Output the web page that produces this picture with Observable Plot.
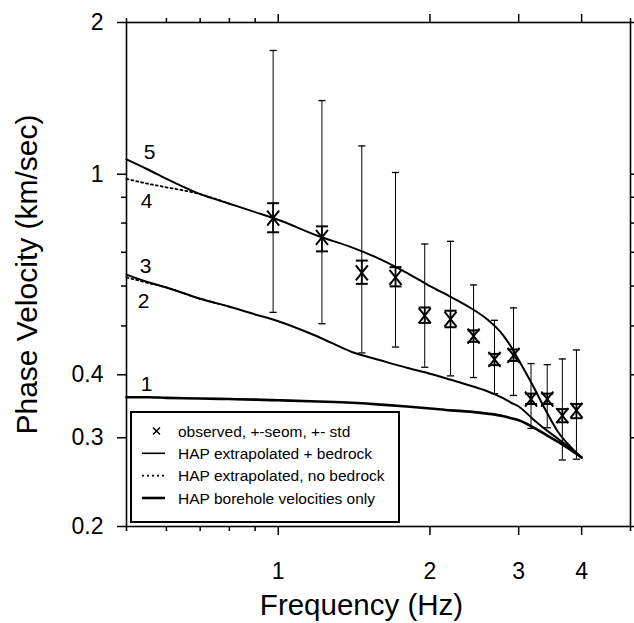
<!DOCTYPE html>
<html>
<head>
<meta charset="utf-8">
<script src="https://cdn.jsdelivr.net/npm/d3@7"></script>
<script src="https://cdn.jsdelivr.net/npm/@observablehq/plot@0.6"></script>
<style>
  html, body { margin: 0; padding: 0; background: #fff; }
  #chart { width: 634px; height: 623px; }
</style>
</head>
<body>
<div id="chart"></div>
<script>
// ---- observed data ----
const obsFreq = [0.977, 1.221, 1.465, 1.709, 1.953, 2.197, 2.441, 2.686, 2.930, 3.174, 3.418, 3.662, 3.906];
const obsVel  = [0.818, 0.749, 0.637, 0.624, 0.524, 0.516, 0.477, 0.429, 0.437, 0.358, 0.358, 0.332, 0.340];
const seomLo  = [0.767, 0.703, 0.606, 0.599, 0.507, 0.497, 0.465, 0.418, 0.426, 0.350, 0.350, 0.322, 0.328];
const seomHi  = [0.876, 0.788, 0.674, 0.654, 0.544, 0.536, 0.490, 0.440, 0.449, 0.367, 0.367, 0.342, 0.350];
const stdLo   = [0.532, 0.505, 0.442, 0.454, 0.414, 0.398, 0.395, 0.367, 0.364, 0.313, 0.314, 0.271, 0.272];
const stdHi   = [1.76, 1.40, 1.138, 1.008, 0.727, 0.736, 0.603, 0.513, 0.543, 0.421, 0.419, 0.430, 0.448];

// ---- model curves ----
const curveFreq = [0.5, 0.55, 0.6, 0.7, 0.8, 0.9, 1.0, 1.2, 1.4, 1.6, 1.8, 2.0, 2.2, 2.4, 2.6, 2.8, 2.9, 3.0, 3.2, 3.4, 3.6, 3.8, 4.0];
const curve5 = [1.07, 1.023, 0.979, 0.913, 0.874, 0.841, 0.812, 0.754, 0.716, 0.677, 0.637, 0.600, 0.571, 0.544, 0.515, 0.478, 0.454, 0.428, 0.381, 0.339, 0.307, 0.288, 0.274];
const curve3 = [0.632, 0.611, 0.596, 0.566, 0.546, 0.527, 0.511, 0.476, 0.444, 0.427, 0.413, 0.402, 0.391, 0.381, 0.371, 0.359, 0.352, 0.346, 0.327, 0.311, 0.298, 0.286, 0.274];
const curve1 = [0.361, 0.361, 0.360, 0.359, 0.358, 0.357, 0.356, 0.354, 0.352, 0.349, 0.346, 0.343, 0.340, 0.338, 0.335, 0.331, 0.328, 0.325, 0.315, 0.304, 0.294, 0.284, 0.274];
const dottedFreq = [0.5, 0.55, 0.6, 0.7, 0.8];
const curve4 = [0.979, 0.958, 0.942, 0.913, 0.874];
const curve2 = [0.624, 0.609, 0.596, 0.566, 0.546];

// ---- ticks ----
const xMajor = [1, 2, 3, 4];
const xMinor = [0.5, 0.6, 0.7, 0.8, 0.9, 5];
const yMajor = [0.2, 0.3, 0.4, 1, 2];
const yMinor = [0.5, 0.6, 0.7, 0.8, 0.9];

const legendLabels = ["observed, +-seom, +- std", "HAP extrapolated + bedrock", "HAP extrapolated, no bedrock", "HAP borehole velocities only"];

const obs = obsFreq.map((f, i) => ({f, v: obsVel[i], sl: seomLo[i], sh: seomHi[i], dl: stdLo[i], dh: stdHi[i]}));
const toRows = (fs, vs) => fs.map((f, i) => ({f, v: vs[i]}));
const c5 = toRows(curveFreq, curve5), c3 = toRows(curveFreq, curve3), c1 = toRows(curveFreq, curve1);
const c4 = toRows(dottedFreq, curve4), c2 = toRows(dottedFreq, curve2);

const hline = {draw(ctx, size) { const r = Math.sqrt(size / Math.PI); ctx.moveTo(-r, 0); ctx.lineTo(r, 0); }};
const xmark = {draw(ctx, size) { const r = Math.sqrt(size / Math.PI); const w = r * 0.8; ctx.moveTo(-w, -r); ctx.lineTo(w, r); ctx.moveTo(w, -r); ctx.lineTo(-w, r); }};

const font = "'Liberation Sans', Arial, Helvetica, sans-serif";
const blank = () => "";

const chart = Plot.plot({
  width: 634, height: 623,
  marginLeft: 126, marginRight: 4, marginTop: 22, marginBottom: 97,
  style: {fontFamily: font, background: "white", color: "black", overflow: "visible"},
  x: {type: "log", domain: [0.5, 5], axis: null, label: null},
  y: {type: "log", domain: [0.2, 2], axis: null, label: null},
  marks: [
    // axes
    Plot.axisX(xMajor, {anchor: "bottom", tickSize: 9, tickPadding: 27, fontSize: 23, tickFormat: d => String(d), label: null, strokeWidth: 1.5}),
    Plot.axisX(xMinor, {anchor: "bottom", tickSize: 5, tickFormat: blank, label: null, strokeWidth: 1.5}),
    Plot.axisX(xMajor, {anchor: "top", tickSize: 9, tickFormat: blank, label: null, strokeWidth: 1.5}),
    Plot.axisX(xMinor, {anchor: "top", tickSize: 5, tickFormat: blank, label: null, strokeWidth: 1.5}),
    Plot.axisY(yMajor, {anchor: "left", tickSize: 9, tickPadding: 14, fontSize: 23, tickFormat: d => String(d), label: null, strokeWidth: 1.5}),
    Plot.axisY(yMinor, {anchor: "left", tickSize: 5, tickFormat: blank, label: null, strokeWidth: 1.5}),
    Plot.axisY(yMajor, {anchor: "right", tickSize: 9, tickFormat: blank, label: null, strokeWidth: 1.5}),
    Plot.axisY(yMinor, {anchor: "right", tickSize: 5, tickFormat: blank, label: null, strokeWidth: 1.5}),
    Plot.frame({stroke: "black", strokeWidth: 1.6}),
    // axis titles
    Plot.text(["Frequency (Hz)"], {frameAnchor: "bottom", text: d => d, textAnchor: "middle", dx: -17, dy: 79, fontSize: 29.5, lineAnchor: "middle"}),
    Plot.text(["Phase Velocity (km/sec)"], {frameAnchor: "left", text: d => d, textAnchor: "middle", dx: -99, rotate: -90, fontSize: 30, lineAnchor: "middle"}),
    // curves
    Plot.line(c4, {x: "f", y: "v", stroke: "black", strokeWidth: 1.8, strokeDasharray: "2,3", curve: "monotone-x"}),
    Plot.line(c2, {x: "f", y: "v", stroke: "black", strokeWidth: 1.8, strokeDasharray: "2,3", curve: "monotone-x"}),
    Plot.line(c5, {x: "f", y: "v", stroke: "black", strokeWidth: 2, curve: "monotone-x"}),
    Plot.line(c3, {x: "f", y: "v", stroke: "black", strokeWidth: 2, curve: "monotone-x"}),
    Plot.line(c1, {x: "f", y: "v", stroke: "black", strokeWidth: 2.6, curve: "monotone-x"}),
    // curve labels
    Plot.text([c5[0]], {x: "f", y: "v", text: () => "5", dx: 23, dy: -7, fontSize: 21}),
    Plot.text([c4[0]], {x: "f", y: "v", text: () => "4", dx: 20, dy: 22, fontSize: 21}),
    Plot.text([c3[0]], {x: "f", y: "v", text: () => "3", dx: 19, dy: -8, fontSize: 21}),
    Plot.text([c2[0]], {x: "f", y: "v", text: () => "2", dx: 17, dy: 24, fontSize: 21}),
    Plot.text([c1[0]], {x: "f", y: "v", text: () => "1", dx: 20, dy: -13, fontSize: 21}),
    // std error bars
    Plot.ruleX(obs, {x: "f", y1: "dl", y2: "dh", stroke: "black", strokeWidth: 1}),
    Plot.dot(obs, {x: "f", y: "dl", symbol: hline, r: 3.6, stroke: "black", fill: "none", strokeWidth: 1.3}),
    Plot.dot(obs, {x: "f", y: "dh", symbol: hline, r: 3.6, stroke: "black", fill: "none", strokeWidth: 1.3}),
    // seom error bars
    Plot.ruleX(obs, {x: "f", y1: "sl", y2: "sh", stroke: "black", strokeWidth: 1.8}),
    Plot.dot(obs, {x: "f", y: "sl", symbol: hline, r: 6, stroke: "black", fill: "none", strokeWidth: 2}),
    Plot.dot(obs, {x: "f", y: "sh", symbol: hline, r: 6, stroke: "black", fill: "none", strokeWidth: 2}),
    // observed markers
    Plot.dot(obs, {x: "f", y: "v", symbol: xmark, r: 7.5, stroke: "black", fill: "none", strokeWidth: 2})
  ]
});

document.getElementById("chart").appendChild(chart);

// ---- legend (inside the frame, lower left) ----
const svg = d3.select(chart);
const lg = svg.append("g").attr("font-family", font).attr("font-size", 15.5).attr("text-anchor", "start");
lg.append("rect").attr("x", 131).attr("y", 412).attr("width", 268).attr("height", 110)
  .attr("fill", "white").attr("stroke", "black").attr("stroke-width", 2);
const rowY = [431, 453.3, 475.6, 498];
legendLabels.forEach((t, i) => {
  const y = rowY[i];
  lg.append("text").attr("x", 178).attr("y", y).attr("dy", "0.36em").attr("text-anchor", "start").text(t);
  if (i === 0) {
    lg.append("path").attr("d", `M${153},${y - 3.5}L${160},${y + 3.5}M${160},${y - 3.5}L${153},${y + 3.5}`)
      .attr("stroke", "black").attr("stroke-width", 1.5);
  } else {
    lg.append("line").attr("x1", 142).attr("x2", 165).attr("y1", y).attr("y2", y)
      .attr("stroke", "black")
      .attr("stroke-width", i === 3 ? 2.6 : 1.6)
      .attr("stroke-dasharray", i === 2 ? "2,3" : null);
  }
});
</script>
</body>
</html>
